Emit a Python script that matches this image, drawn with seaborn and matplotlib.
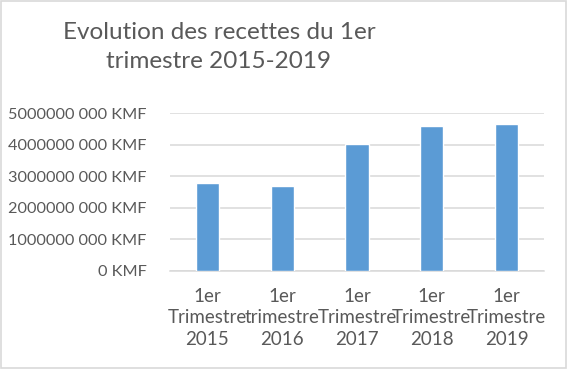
import matplotlib
matplotlib.use("Agg")
import matplotlib.pyplot as plt
import seaborn as sns
import pandas as pd
from matplotlib.ticker import FuncFormatter

categories = ["1er\nTrimestre\n2015", "1er\ntrimestre\n2016", "1er\nTrimestre\n2017",
              "1er\nTrimestre\n2018", "1er\nTrimestre\n2019"]
values = [2770000, 2680000, 4030000, 4600000, 4640000]
yticks = [0, 1000000, 2000000, 3000000, 4000000, 5000000]
title = "Evolution des recettes du 1er\ntrimestre 2015-2019"

sns.set_theme(style="white")
plt.rcParams['font.family'] = ['Lato', 'DejaVu Sans']

df = pd.DataFrame({"cat": categories, "val": values})

fig = plt.figure(figsize=(5.68, 3.69), dpi=100)
ax = fig.add_axes([170/568, 1-271/369, 374/568, 158/369])
sns.barplot(data=df, x="cat", y="val", color="#5b9bd5", width=0.31, saturation=1, ax=ax, zorder=3)

ax.set_ylim(0, 5000000)
ax.set_xlim(-0.5, 4.5)
ax.set_yticks(yticks)

def fmt(v, pos):
    if v == 0:
        return "0 KMF"
    return f"{int(v)} 000 KMF"
ax.yaxis.set_major_formatter(FuncFormatter(fmt))
ax.grid(axis="y", color="#d9d9d9", linewidth=1.1, zorder=0)
ax.set_axisbelow(True)
for s in ["top", "right", "left"]:
    ax.spines[s].set_visible(False)
ax.spines["bottom"].set_color("#d9d9d9")
ax.spines["bottom"].set_linewidth(1.1)
ax.tick_params(axis="y", length=0, labelsize=11.7, labelcolor="#595959", pad=17)
ax.tick_params(axis="x", length=0, labelsize=13.5, labelcolor="#595959", pad=12)
for lab in ax.get_xticklabels():
    lab.set_linespacing(1.33)
ax.set_xlabel("")
ax.set_ylabel("")

fig.text(219/568, 1-47/369, title, ha="center", va="center", fontsize=17.5,
         color="#595959", linespacing=1.5)

fig.patches.append(plt.Rectangle((0.002, 0.004), 0.994, 0.992, transform=fig.transFigure,
                                 fill=False, edgecolor="#d9d9d9", linewidth=1.2))
fig.savefig("out.png", dpi=100, facecolor="white")
